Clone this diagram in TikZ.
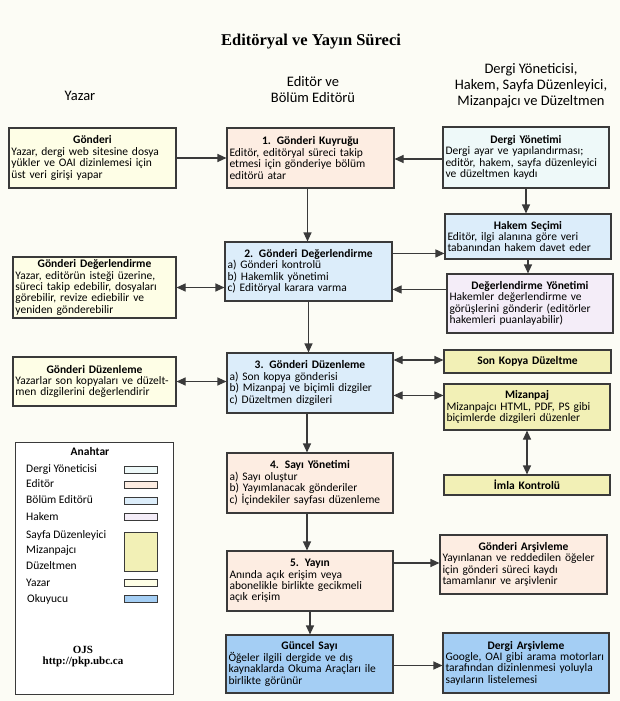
\documentclass[tikz,border=0pt]{standalone}
\usepackage{fontspec}
\setmainfont{Carlito}
\newfontfamily\baslikfont{Liberation Serif}
\usepackage{tikz}
\usetikzlibrary{arrows.meta}
\usetikzlibrary{calc}

\definecolor{zemin}{HTML}{FCFCF5}
\definecolor{cizgi}{HTML}{3A3A3A}
\definecolor{dyon}{HTML}{EEF9F9}
\definecolor{edit}{HTML}{FDEDE2}
\definecolor{bolum}{HTML}{DCEDFA}
\definecolor{hakem}{HTML}{F4EDF8}
\definecolor{sari}{HTML}{F2F0B6}
\definecolor{yazar}{HTML}{FEFEE6}
\definecolor{okur}{HTML}{A4CEF4}

\newcommand{\kbaslik}[1]{\makebox[\linewidth]{\bfseries #1}\\}

\begin{document}
\begin{tikzpicture}[x=1pt, y=-1pt,
  kutu/.style={draw=cizgi, line width=1.1pt, inner xsep=2.5pt, inner ysep=1pt, align=left, font=\fontsize{11.5}{11.4}\selectfont},
  ok/.style={draw=cizgi, line width=1.1pt, -{Triangle[length=9pt,width=8pt]}},
  cift/.style={draw=cizgi, line width=1.1pt, {Triangle[length=9pt,width=8pt]}-{Triangle[length=9pt,width=8pt]}},
  anah/.style={anchor=west, inner sep=0pt, font=\fontsize{11.5}{12}\selectfont},
  renk/.style={draw=cizgi, line width=0.9pt}]
\useasboundingbox (0,0) rectangle (620,701);
\fill[zemin] (0,0) rectangle (620,701);

% basliklar
\node[font=\baslikfont\bfseries\fontsize{16.5}{18}\selectfont] (baslik) at (311,42) {Editöryal ve Yayın Süreci};
\node[font=\fontsize{14.5}{16}\selectfont] (sYazar) at (80,96) {Yazar};
\node[align=center, font=\fontsize{14.5}{16}\selectfont] (sEditor) at (313,90) {Editör ve\\Bölüm Editörü};
\node[align=center, font=\fontsize{14.5}{16}\selectfont] (sDergi) at (531,86) {Dergi Yöneticisi,\\Hakem, Sayfa Düzenleyici,\\Mizanpajcı ve Düzeltmen};

% yazar sutunu
\node[kutu, fill=yazar, minimum width=167, minimum height=60, text width=162] (gonderi) at (92.5,158)
  {\kbaslik{Gönderi}Yazar, dergi web sitesine dosya\\yükler ve OAI dizinlemesi için\\üst veri girişi yapar};
\node[kutu, fill=yazar, minimum width=163, minimum height=61, text width=158] (ydeger) at (94.5,287.5)
  {\kbaslik{Gönderi Değerlendirme}Yazar, editörün isteği üzerine,\\süreci takip edebilir, dosyaları\\görebilir, revize ediebilir ve\\yeniden gönderebilir};
\node[kutu, fill=yazar, minimum width=163, minimum height=49, text width=158] (yduzen) at (94.5,381.5)
  {\kbaslik{Gönderi Düzenleme}Yazarlar son kopyaları ve düzelt-\\men dizgilerini değerlendirir};

% editor sutunu
\node[kutu, fill=edit, minimum width=167, minimum height=60, text width=162] (kuyruk) at (310.5,158)
  {\kbaslik{1. Gönderi Kuyruğu}Editör, editöryal süreci takip\\etmesi için gönderiye bölüm\\editörü atar};
\node[kutu, fill=bolum, minimum width=167, minimum height=59, text width=162] (degerl) at (308.5,271.5)
  {\kbaslik{2. Gönderi Değerlendirme}a) Gönderi kontrolü\\b) Hakemlik yönetimi\\c) Editöryal karara varma};
\node[kutu, fill=bolum, minimum width=166, minimum height=60, text width=161] (duzen) at (310,383)
  {\kbaslik{3. Gönderi Düzenleme}a) Son kopya gönderisi\\b) Mizanpaj ve biçimli dizgiler\\c) Düzeltmen dizgileri};
\node[kutu, fill=edit, minimum width=166, minimum height=60, text width=161] (sayi) at (310,483)
  {\kbaslik{4. Sayı Yönetimi}a) Sayı oluştur\\b) Yayımlanacak gönderiler\\c) İçindekiler sayfası düzenleme};
\node[kutu, fill=edit, minimum width=166, minimum height=60, text width=161] (yayin) at (310,581)
  {\kbaslik{5. Yayın}Anında açık erişim veya\\abonelikle birlikte gecikmeli\\açık erişim};
\node[kutu, fill=okur, minimum width=167, minimum height=58, text width=162] (guncel) at (309.5,664)
  {\kbaslik{Güncel Sayı}Öğeler ilgili dergide ve dış\\kaynaklarda Okuma Araçları ile\\birlikte görünür};

% sag sutun
\node[kutu, fill=dyon, minimum width=166, minimum height=61, text width=161] (dergiyon) at (526,157.5)
  {\kbaslik{Dergi Yönetimi}Dergi ayar ve yapılandırması;\\editör, hakem, sayfa düzenleyici\\ve düzeltmen kaydı};
\node[kutu, fill=bolum, minimum width=166, minimum height=45, text width=161] (hakemsec) at (528,236.5)
  {\kbaslik{Hakem Seçimi}Editör, ilgi alanına göre veri\\tabanından hakem davet eder};
\node[kutu, fill=hakem, minimum width=166, minimum height=59, text width=161] (degyon) at (530,303.5)
  {\kbaslik{Değerlendirme Yönetimi}Hakemler değerlendirme ve\\görüşlerini gönderir (editörler\\hakemleri puanlayabilir)};
\node[kutu, fill=sari, minimum width=167, minimum height=23, text width=162, align=center, font=\bfseries\fontsize{11.5}{12}\selectfont] (sonkopya) at (527.5,361.5) {Son Kopya Düzeltme};
\node[kutu, fill=sari, minimum width=166, minimum height=46, text width=161] (mizanpaj) at (527,407)
  {\kbaslik{Mizanpaj}Mizanpajcı HTML, PDF, PS gibi\\biçimlerde dizgileri düzenler};
\node[kutu, fill=sari, minimum width=166, minimum height=20, text width=161, align=center, font=\bfseries\fontsize{11.5}{12}\selectfont] (imla) at (527,485) {İmla Kontrolü};
\node[kutu, fill=edit, minimum width=167, minimum height=59, text width=162] (garsiv) at (523.5,564.5)
  {\kbaslik{Gönderi Arşivleme}Yayınlanan ve reddedilen öğeler\\için gönderi süreci kaydı\\tamamlanır ve arşivlenir};
\node[kutu, fill=okur, minimum width=166, minimum height=60, text width=161] (darsiv) at (526,663)
  {\kbaslik{Dergi Arşivleme}Google, OAI gibi arama motorları\\tarafından dizinlenmesi yoluyla\\sayıların listelemesi};

% oklar
\draw[ok] (gonderi.east) -- (gonderi.east -| kuyruk.west);
\draw[ok] ([yshift=-1.5]dergiyon.west) -- ([yshift=-1.5]dergiyon.west -| kuyruk.east);
\draw[ok] ([xshift=-3]kuyruk.south) -- ([xshift=-3]kuyruk.south |- degerl.north);
\draw[ok] (dergiyon.south) -- (dergiyon.south |- hakemsec.north);
\draw[ok] (hakemsec.south) -- (hakemsec.south |- degyon.north);
\draw[ok] ([yshift=-12]degerl.north east) -- ([yshift=-12]degerl.north east -| hakemsec.west);
\draw[ok] ([yshift=-16]degyon.north west) -- ([yshift=-16]degyon.north west -| degerl.east);
\draw[cift] (ydeger.east) -- (ydeger.east -| degerl.west);
\draw[ok] (degerl.south) -- (degerl.south |- duzen.north);
\draw[cift] (yduzen.east) -- (yduzen.east -| duzen.west);
\draw[cift] ([yshift=1.5]sonkopya.west -| duzen.east) -- ([yshift=1.5]sonkopya.west);
\draw[cift] ([yshift=-12]mizanpaj.north west -| duzen.east) -- ([yshift=-12]mizanpaj.north west);
\draw[cift] (mizanpaj.south) -- (mizanpaj.south |- imla.north);
\draw[ok] ([xshift=-3]duzen.south) -- ([xshift=-3]duzen.south |- sayi.north);
\draw[ok] ([xshift=-3]sayi.south) -- ([xshift=-3]sayi.south |- yayin.north);
\draw[ok] (yayin.south) -- (yayin.south |- guncel.north);
\draw[ok] ([yshift=1.5]garsiv.west -| yayin.east) -- ([yshift=1.5]garsiv.west);
\draw[ok] ([yshift=-1.5]guncel.east) -- ([yshift=-1.5]guncel.east -| darsiv.west);

% anahtar
\draw[draw=cizgi, line width=1pt, fill=white] (15,442) rectangle (173,694);
\node[font=\bfseries\fontsize{11.5}{12}\selectfont] (anahtar) at (90,452) {Anahtar};
\node[anah] (aDergi) at (26,470) {Dergi Yöneticisi};
\node[anah] (aEditor) at (26,484) {Editör};
\node[anah] (aBolum) at (26,500) {Bölüm Editörü};
\node[anah] (aHakem) at (26,517) {Hakem};
\node[anah] (aSayfa) at (26,535) {Sayfa Düzenleyici};
\node[anah] (aMizan) at (26,551) {Mizanpajcı};
\node[anah] (aDuzel) at (26,566) {Düzeltmen};
\node[anah] (aYazar) at (26,583) {Yazar};
\node[anah] (aOkur) at (27,599) {Okuyucu};
\draw[renk, fill=dyon] (124,466) rectangle (157,473);
\draw[renk, fill=edit] (124,481) rectangle (157,488);
\draw[renk, fill=bolum] (124,497) rectangle (157,504);
\draw[renk, fill=hakem] (124,513) rectangle (157,520);
\draw[renk, fill=sari] (124,532) rectangle (157,571);
\draw[renk, fill=yazar] (124,579) rectangle (157,586);
\draw[renk, fill=okur] (124,595) rectangle (157,602);
\node[align=center, font=\baslikfont\bfseries\fontsize{11}{11.5}\selectfont] (ojs) at (83,656.5) {OJS\\http://pkp.ubc.ca};
\end{tikzpicture}
\end{document}
